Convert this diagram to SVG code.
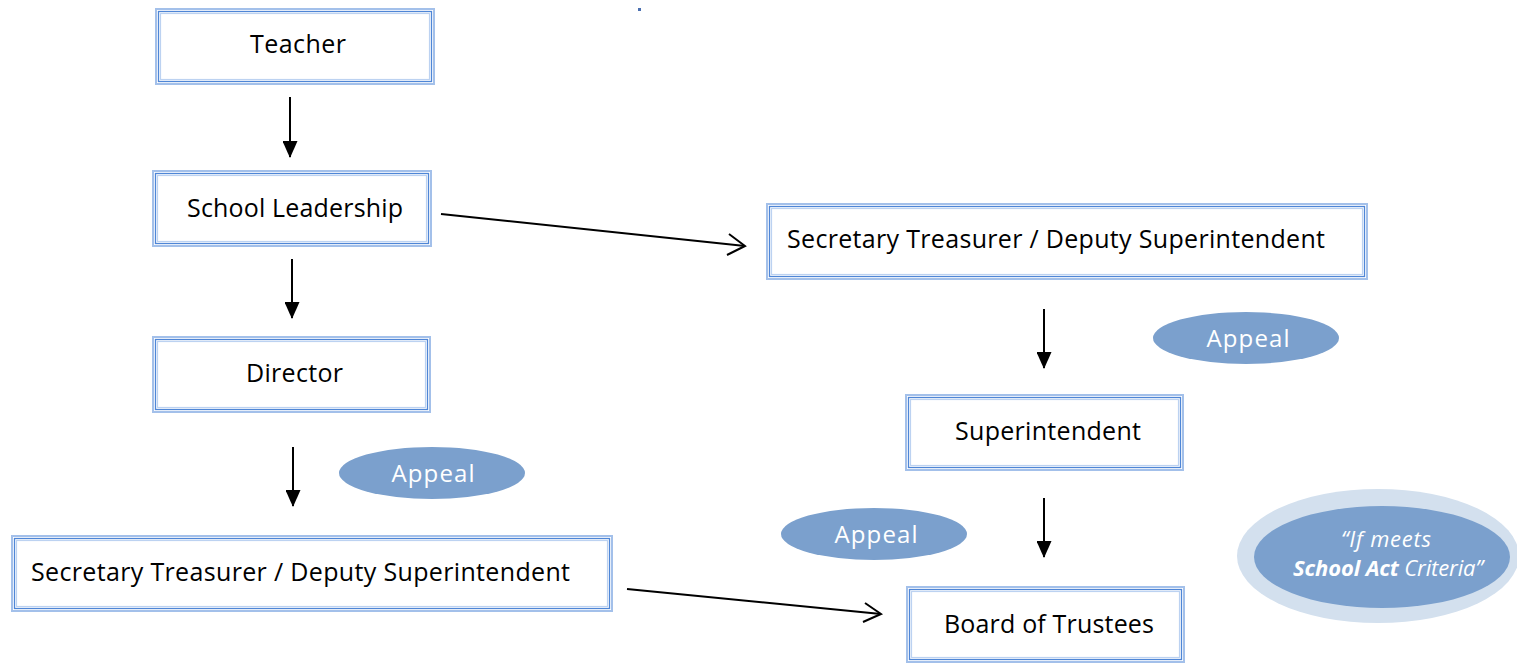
<svg xmlns="http://www.w3.org/2000/svg" width="1517" height="664" viewBox="0 0 1517 664">
<defs>
<style>
.b1{fill:#fff;stroke:#a3c0ea;stroke-width:2}
.b2{fill:none;stroke:#4f86d6;stroke-width:1.3}
.b3{fill:none;stroke:#bcd2f1;stroke-width:1.2}
.t{font-family:"Open Sans","Noto Sans","Liberation Sans",sans-serif;font-size:25px;fill:#000}
.at{font-family:"Open Sans","Noto Sans","Liberation Sans",sans-serif;font-size:24px;fill:#fff}
.ap{fill:#7ba0cd}
.ln{stroke:#000;stroke-width:2;fill:none}
.ct{font-family:"Open Sans","Noto Sans","Liberation Sans",sans-serif;font-size:22px;fill:#fff;font-style:italic}
</style>
<marker id="fa" viewBox="0 0 17 15" refX="16" refY="7.5" markerWidth="17" markerHeight="15" markerUnits="userSpaceOnUse" orient="auto">
<path d="M0,0 L17,7.5 L0,15 Z" fill="#000"/>
</marker>
</defs>
<rect x="638" y="8" width="3" height="3" fill="#4a6fb0"/>
<g id="teacher">
<rect class="b1" x="156" y="9" width="278" height="75"/>
<rect class="b2" x="158.5" y="11.5" width="273" height="70"/>
<rect class="b3" x="160.5" y="13.5" width="269" height="66"/>
<text class="t" x="298" y="53" text-anchor="middle" textLength="96">Teacher</text>
</g>
<g id="school-leadership">
<rect class="b1" x="153" y="171" width="278" height="75"/>
<rect class="b2" x="155.5" y="173.5" width="273" height="70"/>
<rect class="b3" x="157.5" y="175.5" width="269" height="66"/>
<text class="t" x="187" y="217" textLength="216">School Leadership</text>
</g>
<g id="director">
<rect class="b1" x="153" y="337" width="277" height="75"/>
<rect class="b2" x="155.5" y="339.5" width="272" height="70"/>
<rect class="b3" x="157.5" y="341.5" width="268" height="66"/>
<text class="t" x="246" y="382" textLength="97">Director</text>
</g>
<g id="sec-treasurer-left">
<rect class="b1" x="12" y="536" width="600" height="75"/>
<rect class="b2" x="14.5" y="538.5" width="595" height="70"/>
<rect class="b3" x="16.5" y="540.5" width="591" height="66"/>
<text class="t" x="31" y="581" textLength="539">Secretary Treasurer / Deputy Superintendent</text>
</g>
<g id="sec-treasurer-right">
<rect class="b1" x="767" y="204" width="600" height="75"/>
<rect class="b2" x="769.5" y="206.5" width="595" height="70"/>
<rect class="b3" x="771.5" y="208.5" width="591" height="66"/>
<text class="t" x="787" y="248" textLength="538">Secretary Treasurer / Deputy Superintendent</text>
</g>
<g id="superintendent">
<rect class="b1" x="906" y="395" width="277" height="75"/>
<rect class="b2" x="908.5" y="397.5" width="272" height="70"/>
<rect class="b3" x="910.5" y="399.5" width="268" height="66"/>
<text class="t" x="955" y="440" textLength="186">Superintendent</text>
</g>
<g id="board-of-trustees">
<rect class="b1" x="907" y="587" width="277" height="75"/>
<rect class="b2" x="909.5" y="589.5" width="272" height="70"/>
<rect class="b3" x="911.5" y="591.5" width="268" height="66"/>
<text class="t" x="944" y="633" textLength="210">Board of Trustees</text>
</g>
<g id="appeal-1">
<ellipse class="ap" cx="1246" cy="338" rx="93" ry="26"/>
<text class="at" x="1248" y="347" text-anchor="middle" textLength="83">Appeal</text>
</g>
<g id="appeal-2">
<ellipse class="ap" cx="432" cy="473" rx="93" ry="26"/>
<text class="at" x="433" y="482" text-anchor="middle" textLength="83">Appeal</text>
</g>
<g id="appeal-3">
<ellipse class="ap" cx="874" cy="534" rx="93" ry="26"/>
<text class="at" x="876" y="543" text-anchor="middle" textLength="83">Appeal</text>
</g>
<g id="criteria">
<ellipse cx="1378" cy="556" rx="141" ry="67" fill="#d3e0ee"/>
<ellipse cx="1382" cy="557" rx="128" ry="51" fill="#7ba0cd"/>
<text class="ct" x="1386" y="547" text-anchor="middle" textLength="90">“If meets</text>
<text class="ct" x="1388" y="576" text-anchor="middle" textLength="190"><tspan font-weight="bold">School Act</tspan> Criteria”</text>
</g>
<g id="connectors">
<line class="ln" x1="290" y1="97" x2="290" y2="157" marker-end="url(#fa)"/>
<line class="ln" x1="292" y1="259" x2="292" y2="318" marker-end="url(#fa)"/>
<line class="ln" x1="293" y1="447" x2="293" y2="506" marker-end="url(#fa)"/>
<line class="ln" x1="1044" y1="309" x2="1044" y2="368" marker-end="url(#fa)"/>
<line class="ln" x1="1044" y1="498" x2="1044" y2="557" marker-end="url(#fa)"/>
<path class="ln" d="M441,214 L745,246"/>
<path class="ln" d="M729,234 L745,246 L727,255"/>
<path class="ln" d="M627,589 L881,614"/>
<path class="ln" d="M865,603 L881,614 L863,622"/>
</g>
</svg>
